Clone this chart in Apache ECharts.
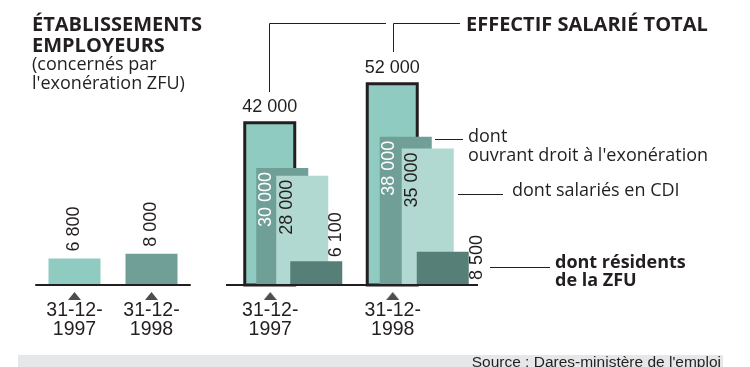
<!DOCTYPE html>
<html><head><meta charset="utf-8">
<script src="https://cdn.jsdelivr.net/npm/echarts@6/dist/echarts.min.js"></script>
<style>html,body{margin:0;padding:0;background:#fff}#c{width:750px;height:367px}</style>
</head><body><div id="c"></div>
<script>
// ---- data ----
const dates = ['31-12-1997', '31-12-1998'];
const etablissements = [6800, 8000];
const effectifTotal = [42000, 52000];
const ouvrantDroit = [30000, 38000];
const salariesCDI = [28000, 35000];
const residentsZFU = [6100, 8500];

// ---- styles ----
const INK = '#231f20';
const C_LIGHT = '#8fcbc0', C_MID = '#6f9f97', C_PALE = '#b1d9d1', C_DARK = '#567f77';
const NUM_FONT = 'Liberation Sans';
const TXT_FONT = 'Open Sans';

function fmt(v) { return String(v).replace(/\B(?=(\d{3})+(?!\d))/g, ' '); }

const tri = document.createElement('canvas'); tri.width = 13; tri.height = 8;
(function () { const g = tri.getContext('2d'); g.fillStyle = '#4d4d4d'; g.beginPath(); g.moveTo(0, 8); g.lineTo(6.5, 0); g.lineTo(13, 8); g.closePath(); g.fill(); })();

const axisLabel = {
  interval: 0, margin: 6,
  formatter: v => '{t| }\n{d|' + v.slice(0, 6) + '}\n{d|' + v.slice(6) + '}',
  rich: {
    t: { width: 13, height: 8, lineHeight: 10, backgroundColor: { image: tri } },
    d: { fontFamily: NUM_FONT, fontSize: 19.5, lineHeight: 19, color: INK }
  }
};

function layer(values, z, cfg) {
  return {
    type: 'custom', xAxisIndex: 1, yAxisIndex: 1, z: z,
    data: values.map((v, i) => [i, v]), encode: { x: 0, y: 1 },
    renderItem: function (params, api) {
      const i = api.value(0), v = api.value(1);
      const top = api.coord([i, v]), base = api.coord([i, 0]);
      const x0 = top[0] + cfg.offset[i], w = cfg.width;
      const kids = [];
      if (cfg.outline) {
        kids.push({ type: 'rect', shape: { x: x0 + 1.5, y: top[1] + 1.5, width: w - 3, height: base[1] - top[1] - 1.5 },
          style: { fill: cfg.color, stroke: INK, lineWidth: 3 } });
      } else {
        kids.push({ type: 'rect', shape: { x: x0, y: top[1], width: w, height: base[1] - top[1] }, style: { fill: cfg.color } });
      }
      const L = cfg.label(i, x0, w, top[1], base[1]);
      kids.push({ type: 'text', x: L.x, y: L.y, rotation: L.rot || 0,
        style: { text: fmt(v), fill: L.color || INK, fontSize: 18, fontFamily: NUM_FONT, align: L.align, verticalAlign: 'middle' } });
      return { type: 'group', children: kids };
    }
  };
}
const R90 = Math.PI / 2;

const gridTop = 51, gridH = 234;

const option = {
  animation: false,
  grid: [
    { left: 36, width: 154, top: gridTop, height: gridH },
    { left: 209, width: 245, top: gridTop, height: gridH }
  ],
  xAxis: [
    { type: 'category', gridIndex: 0, data: dates, z: 10, axisLine: { lineStyle: { color: INK, width: 2 } }, axisTick: { show: false }, axisLabel: axisLabel },
    { type: 'category', gridIndex: 1, data: dates, axisLine: { show: false }, axisTick: { show: false }, axisLabel: axisLabel }
  ],
  yAxis: [
    { type: 'value', gridIndex: 0, min: 0, max: 60000, show: false },
    { type: 'value', gridIndex: 1, min: 0, max: 60000, show: false }
  ],
  series: [
    { type: 'bar', xAxisIndex: 0, yAxisIndex: 0, barWidth: 52,
      data: etablissements.map((v, i) => ({ value: v, itemStyle: { color: [C_LIGHT, C_MID][i] } })),
      label: { show: true, position: 'top', distance: 7, rotate: 90, align: 'left', verticalAlign: 'middle',
        fontFamily: NUM_FONT, fontSize: 18, color: INK, formatter: p => fmt(p.value) } },
    layer(effectifTotal, 2, { offset: [-27, -27], width: 53, color: C_LIGHT, outline: true,
      label: (i, x0, w, t, b) => ({ x: x0 + w / 2, y: t - 14, align: 'center' }) }),
    layer(ouvrantDroit, 3, { offset: [-14, -13], width: 52, color: C_MID,
      label: (i, x0, w, t, b) => ({ x: x0 + 9.5, y: t + 4, rot: R90, align: 'right', color: '#ffffff' }) }),
    layer(salariesCDI, 4, { offset: [6, 9], width: 52, color: C_PALE,
      label: (i, x0, w, t, b) => ({ x: x0 + 10.5, y: t + 4, rot: R90, align: 'right' }) }),
    layer(residentsZFU, 5, { offset: [20, 24], width: 52, color: C_DARK,
      label: (i, x0, w, t, b) => i === 0 ? ({ x: x0 + 46, y: t - 4, rot: R90, align: 'left' }) : ({ x: x0 + w + 8, y: b - 5, rot: R90, align: 'left' }) })
  ],
  graphic: [
    { type: 'line', z: 10, shape: { x1: 226, y1: 285, x2: 478, y2: 285 }, style: { stroke: INK, lineWidth: 2 } },
    { type: 'polyline', shape: { points: [[269.5, 92], [269.5, 23.5], [386, 23.5]] }, style: { stroke: INK, lineWidth: 1, fill: null } },
    { type: 'polyline', shape: { points: [[393.5, 52], [393.5, 23.5], [460, 23.5]] }, style: { stroke: INK, lineWidth: 1, fill: null } },
    { type: 'line', shape: { x1: 435, y1: 139.5, x2: 463, y2: 139.5 }, style: { stroke: INK, lineWidth: 1 } },
    { type: 'line', shape: { x1: 458, y1: 194.5, x2: 503, y2: 194.5 }, style: { stroke: INK, lineWidth: 1 } },
    { type: 'line', shape: { x1: 490, y1: 267.5, x2: 550, y2: 267.5 }, style: { stroke: INK, lineWidth: 1 } },
    { type: 'text', x: 32, y: 25, style: { text: 'ÉTABLISSEMENTS', fill: INK, fontFamily: TXT_FONT, fontWeight: 'bold', fontSize: 20, verticalAlign: 'middle' } },
    { type: 'text', x: 32, y: 46, style: { text: 'EMPLOYEURS', fill: INK, fontFamily: TXT_FONT, fontWeight: 'bold', fontSize: 20, verticalAlign: 'middle' } },
    { type: 'text', x: 32, y: 65, style: { text: '(concernés par', fill: INK, fontFamily: TXT_FONT, fontSize: 18, verticalAlign: 'middle' } },
    { type: 'text', x: 32, y: 84, style: { text: "l'exonération ZFU)", fill: INK, fontFamily: TXT_FONT, fontSize: 18, verticalAlign: 'middle' } },
    { type: 'text', x: 466, y: 25, style: { text: 'EFFECTIF SALARIÉ TOTAL', fill: INK, fontFamily: TXT_FONT, fontWeight: 'bold', fontSize: 20, verticalAlign: 'middle' } },
    { type: 'text', x: 468, y: 137, style: { text: 'dont', fill: INK, fontFamily: TXT_FONT, fontSize: 18, verticalAlign: 'middle' } },
    { type: 'text', x: 468, y: 156, style: { text: "ouvrant droit à l'exonération", fill: INK, fontFamily: TXT_FONT, fontSize: 18, verticalAlign: 'middle' } },
    { type: 'text', x: 512, y: 191, style: { text: 'dont salariés en CDI', fill: INK, fontFamily: TXT_FONT, fontSize: 18, verticalAlign: 'middle' } },
    { type: 'text', x: 555, y: 262.5, style: { text: 'dont résidents', fill: INK, fontFamily: TXT_FONT, fontWeight: 'bold', fontSize: 18, verticalAlign: 'middle' } },
    { type: 'text', x: 555, y: 281, style: { text: 'de la ZFU', fill: INK, fontFamily: TXT_FONT, fontWeight: 'bold', fontSize: 18, verticalAlign: 'middle' } },
    { type: 'rect', shape: { x: 18, y: 355, width: 705, height: 12 }, style: { fill: '#e6e7e8' } },
    { type: 'text', x: 721, y: 363, style: { text: "Source : Dares-ministère de l'emploi", fill: INK, fontFamily: NUM_FONT, fontSize: 15.5, align: 'right', verticalAlign: 'middle' } }
  ]
};

const chart = echarts.init(document.getElementById('c'));
chart.setOption(option);
</script>
</body></html>
